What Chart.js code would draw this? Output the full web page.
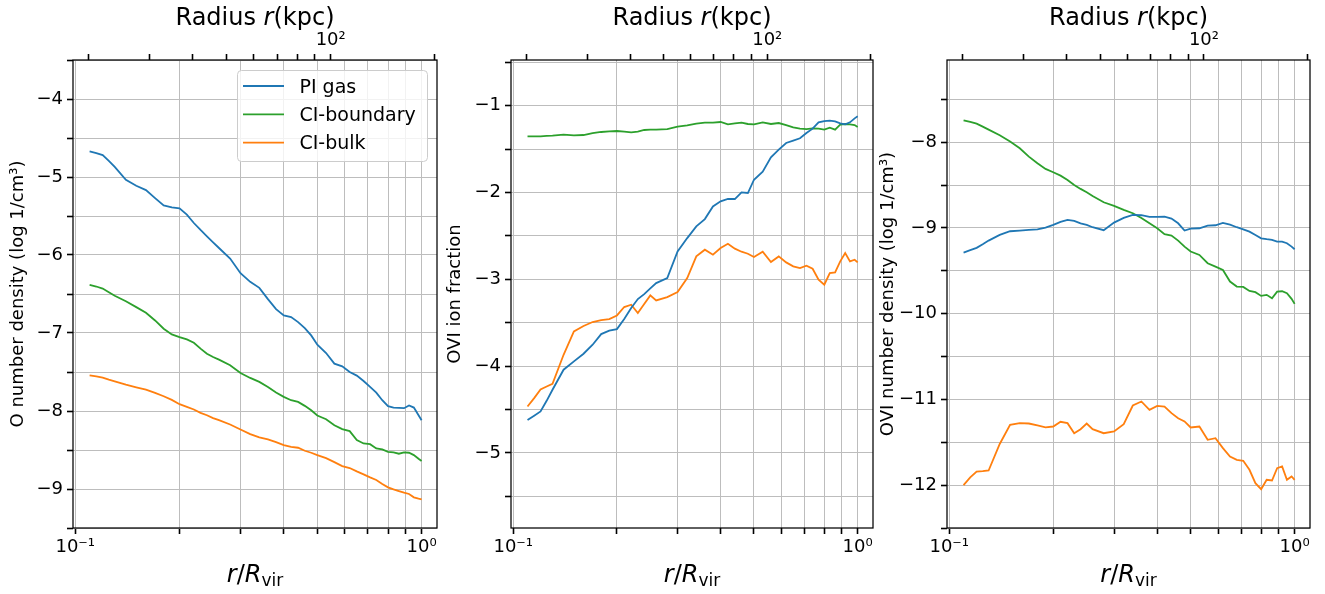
<!DOCTYPE html>
<html>

<head>
  <title>O and OVI radial profiles</title>
  <script src="https://cdn.jsdelivr.net/npm/chart.js"></script>
  <style>
    body {
      margin: 0;
      background: #fff;
    }

    canvas {
      position: absolute;
      top: 0;
    }
  </style>
</head>

<body>
  <canvas id="panel-o" width="440" height="594" style="left:0"></canvas>
  <canvas id="panel-frac" width="440" height="594" style="left:440px"></canvas>
  <canvas id="panel-ovi" width="450" height="594" style="left:875px"></canvas>

  <script>
    // r / R_vir
    var radius = [0.11, 0.115, 0.12, 0.125, 0.13, 0.14, 0.15, 0.16, 0.17, 0.18, 0.19, 0.20, 0.21, 0.22, 0.23, 0.24,
      0.25, 0.26, 0.28, 0.30, 0.32, 0.34, 0.36, 0.38, 0.40, 0.42, 0.44, 0.46, 0.48, 0.50, 0.53, 0.56, 0.59, 0.62,
      0.65, 0.68, 0.71, 0.74, 0.77, 0.80, 0.83, 0.86, 0.89, 0.92, 0.95, 0.98, 1.00];

    var seriesNames = ['PI gas', 'CI-boundary', 'CI-bulk'];

    // O number density (log 1/cm^3)
    var oPI = [-4.673, -4.695, -4.720, -4.793, -4.870, -5.036, -5.113, -5.168, -5.270, -5.364, -5.390, -5.402,
      -5.483, -5.590, -5.679, -5.760, -5.837, -5.910, -6.046, -6.234, -6.344, -6.421, -6.566, -6.694, -6.775,
      -6.796, -6.860, -6.937, -7.031, -7.150, -7.257, -7.393, -7.428, -7.500, -7.546, -7.615, -7.691, -7.764,
      -7.862, -7.939, -7.956, -7.960, -7.964, -7.930, -7.956, -8.054, -8.118];
    var oBoundary = [-6.383, -6.404, -6.430, -6.477, -6.523, -6.592, -6.668, -6.741, -6.839, -6.945, -7.018,
      -7.052, -7.082, -7.125, -7.201, -7.265, -7.308, -7.342, -7.414, -7.512, -7.576, -7.627, -7.691, -7.764,
      -7.819, -7.862, -7.883, -7.934, -7.990, -8.058, -8.105, -8.182, -8.233, -8.258, -8.373, -8.416, -8.425,
      -8.480, -8.493, -8.523, -8.531, -8.548, -8.531, -8.535, -8.565, -8.612, -8.641];
    var oBulk = [-7.542, -7.555, -7.572, -7.598, -7.619, -7.662, -7.696, -7.726, -7.768, -7.811, -7.858, -7.913,
      -7.947, -7.981, -8.024, -8.054, -8.092, -8.118, -8.173, -8.237, -8.297, -8.339, -8.365, -8.399, -8.437,
      -8.459, -8.471, -8.510, -8.535, -8.565, -8.604, -8.655, -8.706, -8.731, -8.774, -8.812, -8.851, -8.885,
      -8.936, -8.979, -9.004, -9.026, -9.047, -9.064, -9.107, -9.124, -9.132];

    // OVI ion fraction
    var fracPI = [-4.621, -4.571, -4.521, -4.399, -4.272, -4.041, -3.945, -3.857, -3.753, -3.631, -3.592, -3.573,
      -3.458, -3.331, -3.227, -3.170, -3.104, -3.043, -2.985, -2.680, -2.525, -2.390, -2.306, -2.160, -2.102,
      -2.075, -2.075, -1.998, -2.006, -1.853, -1.760, -1.595, -1.507, -1.430, -1.403, -1.376, -1.315, -1.265,
      -1.192, -1.177, -1.173, -1.180, -1.204, -1.215, -1.192, -1.146, -1.123];
    var fracBoundary = [-1.353, -1.353, -1.353, -1.349, -1.346, -1.334, -1.342, -1.338, -1.315, -1.303, -1.296,
      -1.292, -1.300, -1.307, -1.300, -1.280, -1.276, -1.276, -1.269, -1.242, -1.227, -1.207, -1.196, -1.196,
      -1.188, -1.215, -1.204, -1.196, -1.211, -1.215, -1.192, -1.211, -1.200, -1.223, -1.250, -1.265, -1.269,
      -1.261, -1.265, -1.276, -1.253, -1.276, -1.219, -1.211, -1.215, -1.223, -1.246];
    var fracBulk = [-4.464, -4.368, -4.268, -4.234, -4.203, -3.869, -3.600, -3.538, -3.492, -3.469, -3.458, -3.416,
      -3.319, -3.293, -3.389, -3.285, -3.185, -3.243, -3.204, -3.147, -2.985, -2.736, -2.659, -2.717, -2.640,
      -2.590, -2.647, -2.682, -2.705, -2.743, -2.682, -2.801, -2.736, -2.805, -2.851, -2.870, -2.843, -2.878,
      -3.005, -3.062, -2.928, -2.920, -2.793, -2.697, -2.793, -2.774, -2.805];

    // OVI number density (log 1/cm^3)
    var oviPI = [-9.287, -9.259, -9.232, -9.190, -9.147, -9.081, -9.038, -9.030, -9.022, -9.015, -8.995, -8.964,
      -8.929, -8.906, -8.917, -8.945, -8.964, -8.991, -9.026, -8.937, -8.882, -8.847, -8.851, -8.871, -8.871,
      -8.867, -8.890, -8.945, -9.030, -9.007, -9.003, -8.972, -8.968, -8.941, -8.960, -8.991, -9.015, -9.042,
      -9.081, -9.120, -9.131, -9.139, -9.158, -9.158, -9.178, -9.217, -9.248];
    var oviBoundary = [-7.743, -7.763, -7.782, -7.817, -7.852, -7.918, -7.992, -8.070, -8.167, -8.245, -8.311,
      -8.350, -8.389, -8.439, -8.498, -8.544, -8.583, -8.626, -8.700, -8.742, -8.789, -8.828, -8.883, -8.945,
      -9.003, -9.073, -9.088, -9.147, -9.217, -9.275, -9.314, -9.411, -9.450, -9.489, -9.625, -9.683, -9.687,
      -9.734, -9.749, -9.792, -9.780, -9.819, -9.742, -9.738, -9.761, -9.827, -9.885];
    var oviBulk = [-12.000, -11.910, -11.841, -11.837, -11.829, -11.520, -11.296, -11.277, -11.281, -11.304,
      -11.327, -11.316, -11.261, -11.277, -11.394, -11.347, -11.281, -11.347, -11.394, -11.374, -11.289, -11.071,
      -11.024, -11.121, -11.075, -11.083, -11.160, -11.219, -11.257, -11.327, -11.316, -11.471, -11.452, -11.568,
      -11.666, -11.705, -11.716, -11.821, -11.977, -12.047, -11.938, -11.946, -11.802, -11.782, -11.938, -11.899,
      -11.938];

    // axis ticks
    var xTicks = [0.1, 0.2, 0.3, 0.4, 0.5, 0.6, 0.7, 0.8, 0.9, 1.0];
    var kpcTicks = [20, 30, 40, 50, 60, 70, 80, 90, 100, 200];
    var yTicksO = [-9.5, -9, -8.5, -8, -7.5, -7, -6.5, -6, -5.5, -5, -4.5, -4, -3.5];
    var yTicksFrac = [-5.5, -5, -4.5, -4, -3.5, -3, -2.5, -2, -1.5, -1, -0.5];
    var yTicksOvi = [-12.5, -12, -11.5, -11, -10.5, -10, -9.5, -9, -8.5, -8, -7.5];

    var R_VIR = 183; // kpc
    var X_MIN = 0.0985, X_MAX = 1.108;
    var colors = ['#1f77b4', '#2ca02c', '#ff7f0e'];
    var FONT = 'DejaVu Sans';

    function minusText(v) {
      return v < 0 ? '\u2212' + Math.abs(v) : String(v);
    }

    function xLabel(v) {
      if (v === 0.1) return '10\u207B\u00B9';
      if (v === 1) return '10\u2070';
      return '';
    }

    // draws a row of text pieces with different fonts, centred on cx
    function drawRuns(ctx, runs, cx, baseline) {
      var total = 0;
      runs.forEach(function (r) {
        ctx.font = r.font;
        r.w = ctx.measureText(r.text).width;
        total += r.w;
      });
      var x = cx - total / 2;
      ctx.textAlign = 'left';
      ctx.textBaseline = 'alphabetic';
      ctx.fillStyle = '#000';
      runs.forEach(function (r) {
        ctx.font = r.font;
        ctx.fillText(r.text, x, baseline + (r.dy || 0));
        x += r.w;
      });
    }

    var framePlugin = {
      id: 'frame',
      afterDatasetsDraw: function (chart) {
        var a = chart.chartArea, ctx = chart.ctx;
        ctx.save();
        ctx.strokeStyle = '#000';
        ctx.lineWidth = 1.25;
        ctx.strokeRect(a.left, a.top, a.right - a.left, a.bottom - a.top);
        ctx.restore();
      },
      afterDraw: function (chart) {
        var a = chart.chartArea, ctx = chart.ctx;
        var cx = (a.left + a.right) / 2;
        ctx.save();
        drawRuns(ctx, [
          { text: 'Radius ', font: '24px ' + FONT },
          { text: 'r', font: 'italic 24px ' + FONT },
          { text: '(kpc)', font: '24px ' + FONT }
        ], cx, 25);
        drawRuns(ctx, [
          { text: 'r', font: 'italic 24px ' + FONT },
          { text: '/', font: '24px ' + FONT },
          { text: 'R', font: 'italic 24px ' + FONT },
          { text: 'vir', font: '17px ' + FONT, dy: 4 }
        ], cx, 582);
        ctx.restore();
      }
    };

    var legendPlugin = {
      id: 'boxLegend',
      afterDatasetsDraw: function (chart) {
        var ctx = chart.ctx;
        var bx = 237, by = 70, bw = 190, bh = 91;
        ctx.save();
        ctx.fillStyle = 'rgba(255,255,255,0.8)';
        ctx.strokeStyle = '#cccccc';
        ctx.lineWidth = 1;
        ctx.beginPath();
        ctx.roundRect(bx + 0.5, by + 0.5, bw, bh, 4);
        ctx.fill();
        ctx.stroke();
        chart.data.datasets.forEach(function (ds, i) {
          var y = 86 + i * 28.3;
          ctx.strokeStyle = ds.borderColor;
          ctx.lineWidth = 1.8;
          ctx.beginPath();
          ctx.moveTo(243, y);
          ctx.lineTo(284, y);
          ctx.stroke();
          ctx.fillStyle = '#000';
          ctx.font = '19px ' + FONT;
          ctx.textBaseline = 'alphabetic';
          ctx.fillText(ds.label, 299.5, y + 6.7);
        });
        ctx.restore();
      }
    };

    function makePanel(id, series, yMin, yMax, yTicks, yTitle, titlePad, leftWidth, padRight, withLegend) {
      var datasets = series.map(function (vals, i) {
        return {
          label: seriesNames[i],
          data: radius.map(function (r, k) { return { x: r, y: vals[k] }; }),
          borderColor: colors[i],
          backgroundColor: colors[i],
          borderWidth: 1.8,
          pointRadius: 0,
          fill: false,
          tension: 0
        };
      });
      var tickFont = { family: FONT, size: 18 };
      var gridStyle = { color: '#bdbdbd', lineWidth: 1, tickColor: '#000', tickWidth: 1.6, tickLength: 6 };
      var plugins = [framePlugin];
      if (withLegend) plugins.push(legendPlugin);

      return new Chart(document.getElementById(id).getContext('2d'), {
        type: 'line',
        data: { datasets: datasets },
        plugins: plugins,
        options: {
          responsive: false,
          animation: false,
          layout: { padding: { right: padRight } },
          plugins: {
            legend: { display: false },
            tooltip: { enabled: false }
          },
          scales: {
            x: {
              type: 'logarithmic',
              position: 'bottom',
              min: X_MIN,
              max: X_MAX,
              afterBuildTicks: function (s) { s.ticks = xTicks.map(function (v) { return { value: v }; }); },
              afterFit: function (s) { s.height = 66; },
              ticks: { autoSkip: false, maxRotation: 0, padding: 3, font: tickFont, color: '#000', callback: xLabel },
              grid: gridStyle,
              border: { display: false }
            },
            x2: {
              type: 'logarithmic',
              position: 'top',
              min: X_MIN * R_VIR,
              max: X_MAX * R_VIR,
              afterBuildTicks: function (s) { s.ticks = kpcTicks.map(function (v) { return { value: v }; }); },
              afterFit: function (s) { s.height = 60; },
              ticks: {
                autoSkip: false, maxRotation: 0, padding: 3, font: tickFont, color: '#000',
                callback: function (v) { return v === 100 ? '10\u00B2' : ''; }
              },
              grid: { drawOnChartArea: false, tickColor: '#000', tickWidth: 1.6, tickLength: 6 },
              border: { display: false }
            },
            y: {
              type: 'linear',
              position: 'left',
              min: yMin,
              max: yMax,
              afterBuildTicks: function (s) { s.ticks = yTicks.map(function (v) { return { value: v }; }); },
              afterFit: function (s) { s.width = leftWidth; },
              ticks: {
                autoSkip: false, padding: 4, font: tickFont, color: '#000',
                callback: function (v) { return Number.isInteger(v) ? minusText(v) : ''; }
              },
              grid: gridStyle,
              border: { display: false },
              title: {
                display: true, text: yTitle, color: '#000',
                font: { family: FONT, size: 18 }, padding: { top: titlePad }
              }
            }
          }
        }
      });
    }

    makePanel('panel-o', [oPI, oBoundary, oBulk], -9.5, -3.5, yTicksO,
      'O number density (log 1/cm\u00B3)', 8, 73, 3, true);
    makePanel('panel-frac', [fracPI, fracBoundary, fracBulk], -5.864, -0.474, yTicksFrac,
      'OVI ion fraction', 5, 71, 7, false);
    makePanel('panel-ovi', [oviPI, oviBoundary, oviBulk], -12.5, -7.04, yTicksOvi,
      'OVI number density (log 1/cm\u00B3)', 3, 72, 15, false);
  </script>
</body>

</html>
